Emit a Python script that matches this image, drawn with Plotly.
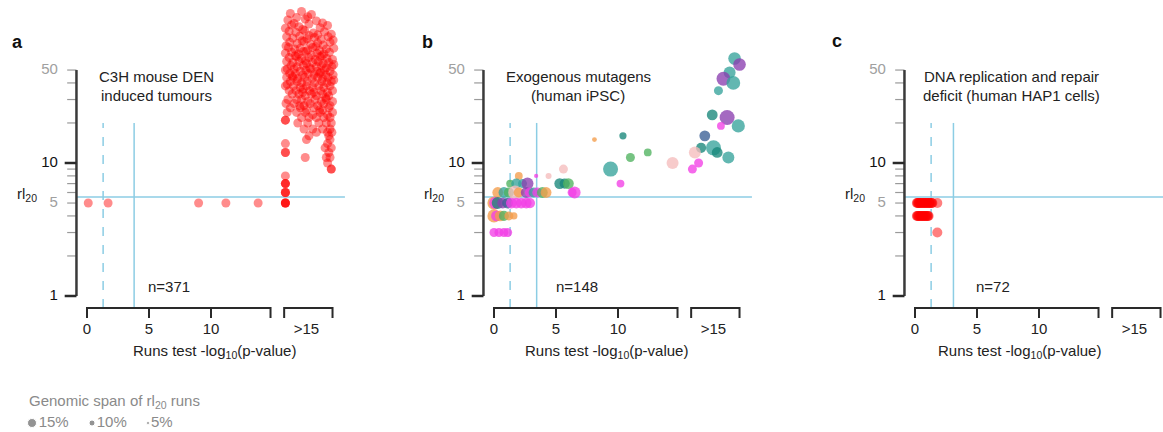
import plotly.graph_objects as go

W, H = 1163, 432
FONT = "Liberation Sans, Arial, sans-serif"

# ---------------- data ----------------
# panel a: C3H mouse DEN induced tumours  (x = runs test -log10 p, >15 column spread over 15.9..19.8; y = rl20)
a_x = [
    16.4, 17.3, 18.1, 17.8, 16.9,
    16.2, 17.6, 18.5, 19.0, 16.7,
    16.5, 17.1, 17.9, 18.8, 19.4, 16.0, 17.4,
    16.3, 16.85, 17.55, 18.25, 18.6, 19.15, 19.7, 17.9,
    16.1, 16.6, 17.15, 17.75, 18.35, 18.9, 19.45, 19.85, 17.35,
    16.35, 16.95, 17.5, 18.05, 18.6, 19.05, 19.6, 16.05, 18.45,
    16.25, 16.75, 17.2, 17.8, 18.2, 18.75, 19.3, 19.9, 17.45,
    16.0, 16.5, 17.05, 17.65, 18.1, 18.55, 19.1, 19.55, 16.8, 18.95,
    16.3, 16.9, 17.3, 17.9, 18.4, 18.8, 19.35, 19.8, 17.6,
    16.1, 16.6, 17.1, 17.7, 18.2, 18.65, 19.05, 19.5, 19.9,
    16.45, 16.95, 17.45, 17.95, 18.5, 18.9, 19.3, 19.75, 16.15,
    16.0, 16.7, 17.2, 17.65, 18.05, 18.55, 19.15, 19.6, 18.85,
    16.35, 16.8, 17.4, 17.85, 18.3, 18.75, 19.25, 19.85, 16.55,
    16.1, 16.6, 17.0, 17.55, 18.15, 18.6, 19.0, 19.45, 19.9,
    16.4, 16.95, 17.3, 17.75, 18.35, 18.95, 19.35, 19.7, 16.15,
    16.0, 16.65, 17.2, 17.7, 18.2, 18.7, 19.1, 19.6, 17.45,
    16.3, 16.85, 17.4, 17.95, 18.3, 18.85, 19.4, 19.8,
    16.55, 17.1, 17.6, 18.1, 18.5, 19.0, 19.5, 19.25,
    16.2, 16.9, 17.3, 17.8, 18.4, 18.9, 19.3, 19.8,
    16.05, 16.7, 17.5, 18.0, 18.6, 19.1, 19.6, 17.15,
    16.4, 17.2, 17.7, 18.3, 19.0, 19.5, 18.75,
    16.15, 16.9, 17.6, 18.2, 18.8, 19.4, 19.8,
    17.3, 17.9, 18.5, 19.1, 19.6,
    16.0, 16.0,
    17.0, 17.8, 18.7, 19.3, 19.7,
    17.5, 18.2, 19.0, 19.6,
    18.5, 19.4, 19.75,
    17.9, 19.5,
    17.7, 19.6,
    16.0, 19.4,
    19.2, 19.7,
    16.0, 16.0, 19.5,
    17.6, 19.3, 19.6,
    19.4,
    19.7, 19.7,
    16.0,
    16.0, 16.0, 16.0,
    16.0, 16.0, 16.0,
    16.0, 16.0, 16.0, 16.0, 0.1, 1.7, 9.0, 11.2, 13.8,
]
a_y = [
    133, 138, 131, 126, 124,
    119, 121, 117, 113, 112,
    109, 106, 111, 104, 108, 103, 101,
    98, 96, 99, 95, 92, 97, 93, 91,
    89, 87, 90, 86, 88, 85, 89, 84, 83,
    81, 79, 82, 78, 80, 77, 81, 76, 75,
    74, 72, 73, 71, 74, 70, 72, 73, 69,
    67, 68, 66, 69, 65, 67, 66, 68, 64, 64,
    62, 63, 61, 62, 60, 63, 61, 60, 59,
    58, 57, 58, 56, 57, 58, 56, 57, 55,
    54, 53, 54, 52, 53, 54, 52, 53, 51,
    50, 51, 49, 50, 51, 49, 50, 49, 48,
    47, 47, 46, 47, 46, 47, 46, 46, 45,
    44, 44, 43, 44, 43, 44, 43, 44, 42,
    41, 41, 40, 41, 40, 41, 40, 41, 39,
    38, 38, 37, 38, 37, 38, 37, 38, 36,
    35, 35, 34, 35, 34, 35, 34, 35,
    33, 33, 32, 33, 32, 33, 32, 31,
    30, 30, 30, 29, 30, 29, 30, 29,
    28, 28, 27, 28, 27, 28, 27, 27,
    26, 26, 25, 26, 25, 26, 25,
    24, 24, 24, 23, 24, 23, 24,
    22, 22, 22, 22, 22,
    21, 21,
    20, 20, 20, 20, 20,
    18, 18, 18, 18,
    17, 17, 17,
    16, 16,
    15, 15,
    14, 14,
    13, 13,
    12, 12, 12,
    11, 11, 11,
    10,
    9, 9,
    8,
    7, 7, 7,
    6, 6, 6,
    5, 5, 5, 5, 5, 5, 5, 5, 5,
]

# panel b: exogenous mutagens (human iPSC)
b_x = [19.4, 19.8, 19.0, 18.5, 19.3, 18.1, 17.6, 18.8, 18.3, 19.7,
       17.0, 16.7, 16.2, 17.7, 18.0, 18.9, 16.5, 16.0, 14.4,
       8.1, 10.4, 11.0, 12.4, 9.4, 10.2, 5.6, 4.4, 3.4, 2.0,
       1.3, 1.8, 2.3, 2.7, 5.3, 5.7, 6.0, 6.5, 6.3,
       0.3, 0.8, 1.2, 1.7, 2.0, 2.6, 2.9, 3.2, 3.5, 3.9, 4.2,
       0.0, 0.1, 0.3, 0.7, 1.1, 1.4, 1.8, 2.2, 2.6, 2.9,
       0.0, 0.2, 0.5, 0.8, 1.2, 1.6,
       0.0, 0.4, 0.8, 1.1]
b_y = [61, 55, 48, 43, 40, 35, 23, 22, 19, 19,
       16, 13, 12, 13, 12, 11, 10, 9, 10,
       15, 16, 11, 12, 9, 7, 9, 8, 8, 8,
       7, 7, 7, 7, 7, 7, 7, 6, 6,
       6, 6, 6, 6, 6, 6, 6, 6, 6, 6, 6,
       5, 5, 5, 5, 5, 5, 5, 5, 5, 5,
       4, 4, 4, 4, 4, 4,
       3, 3, 3, 3]
b_span = [21, 21, 20, 23, 23, 15, 18, 25, 13, 22,
          18, 17, 20, 25, 18, 20, 15, 15, 20,
          8, 12, 15, 13, 25, 13, 15, 10, 7, 13,
          13, 17, 15, 20, 18, 17, 18, 20, 15,
          18, 18, 17, 23, 17, 18, 17, 17, 17, 18, 18,
          22, 20, 20, 18, 18, 18, 18, 18, 18, 17,
          22, 18, 18, 17, 15, 12,
          15, 15, 15, 15]
b_group = ["teal", "purple", "teal", "purple", "teal", "teal", "dteal", "purple", "magenta", "teal",
           "navy", "dteal", "pink", "teal", "dteal", "teal", "magenta", "magenta", "pink",
           "orange", "dteal", "green", "green", "teal", "magenta", "pink", "pink", "magenta", "orange",
           "green", "teal", "teal", "purple", "dteal", "dteal", "green", "magenta", "magenta",
           "orange", "teal", "green", "pink", "orange", "purple", "magenta", "teal", "magenta", "green", "orange",
           "orange", "magenta", "dteal", "purple", "navy", "magenta", "magenta", "magenta", "magenta", "magenta",
           "orange", "magenta", "orange", "green", "orange", "orange",
           "magenta", "magenta", "magenta", "magenta"]

# panel c: DNA replication and repair deficit (human HAP1 cells)
c_x = [0.15, 0.2, 0.25, 0.3, 0.35, 0.4, 0.5, 0.55, 0.6, 0.7, 0.75, 0.8, 0.9, 0.95, 1.0,
       1.1, 1.15, 1.2, 1.3, 1.35, 1.4, 1.8,
       0.15, 0.2, 0.25, 0.3, 0.4, 0.45, 0.5, 0.6, 0.65, 0.7, 0.8, 0.85, 0.9, 1.0, 1.05, 1.1,
       1.8]
c_y = [5, 5, 5, 5, 5, 5, 5, 5, 5, 5, 5, 5, 5, 5, 5,
       5, 5, 5, 5, 5, 5, 5,
       4, 4, 4, 4, 4, 4, 4, 4, 4, 4, 4, 4, 4, 4, 4, 4,
       3]

panel_letters = ["a", "b", "c"]
panel_titles = [["C3H mouse DEN", "induced tumours"],
                ["Exogenous mutagens", "(human iPSC)"],
                ["DNA replication and repair", "deficit (human HAP1 cells)"]]
panel_n = ["n=371", "n=148", "n=72"]
bonferroni_line = [3.8, 3.44, 3.1]
nominal_line = 1.3
rl20_line = 5.55

y_major = [1, 10]
y_minor = [2, 3, 4, 5, 6, 7, 8, 9, 20, 30, 40, 50]
y_lab_val = [1, 5, 10, 50]
y_lab_txt = ["1", "5", "10", "50"]
x_tick_val = [0, 5, 10]
x_tick_txt = ["0", "5", "10"]
seg1 = [0, 14.8]
seg2 = [15.9, 19.8]
over15_pos = 17.7

legend_span = [15, 10, 5]
legend_txt = ["15%", "10%", "5%"]

# ---------------- styling / geometry ----------------
PPU = 12.4            # px per x unit
Y0PX, PPD = 296, 133  # px of y=1, px per decade
x0px = [87, 494, 915]
dom_px = [(5, 388), (392, 778), (790, 1163)]
YTOP, YBOT = 0, 372
YAX = -0.85
SIZE_PER_PCT = 0.6

def ypx2val(py):
    return 10 ** ((Y0PX - py) / PPD)

XB = ypx2val(308)
XT = ypx2val(318)
XLAB_Y = ypx2val(330)

colors = {"teal": "#36a39b", "dteal": "#17877a", "purple": "#8a3fb0", "magenta": "#f23fe6",
          "orange": "#f39c4a", "green": "#4fb25f", "pink": "#f5bcbc", "navy": "#3a5f95"}

fig = go.Figure()

def ax_ids(i):
    s = "" if i == 0 else str(i + 1)
    return "x" + s, "y" + s

def line(xs, ys, i, color, width, dash="solid"):
    xa, ya = ax_ids(i)
    fig.add_trace(go.Scatter(x=xs, y=ys, xaxis=xa, yaxis=ya, mode="lines",
                             line=dict(color=color, width=width, dash=dash),
                             hoverinfo="skip", showlegend=False))

BLUE = "#8ccde4"
for i in range(3):
    xa, ya = ax_ids(i)
    # reference lines
    line([YAX, 20.8], [rl20_line, rl20_line], i, BLUE, 1.5)
    line([nominal_line, nominal_line], [XB, 20], i, BLUE, 1.5, "dash")
    line([bonferroni_line[i], bonferroni_line[i]], [XB, 20], i, BLUE, 1.5)
    # y spine + ticks
    mx, my = [], []
    for t in y_minor:
        mx += [YAX, YAX - 0.75, None]
        my += [t, t, None]
    line(mx, my, i, "#9a9a9a", 1.2)
    line([YAX, YAX], [1, 50], i, "#3a3a3a", 2.5)
    Mx, My = [], []
    for t in y_major:
        Mx += [YAX, YAX - 0.95, None]
        My += [t, t, None]
    line(Mx, My, i, "#2a2a2a", 2.5)
    # x axis brackets
    bx, by = [], []
    for seg in (seg1, seg2):
        bx += [seg[0], seg[0], seg[1], seg[1], None]
        by += [XT, XB, XB, XT, None]
    for t in x_tick_val[1:]:
        bx += [t, t, None]
        by += [XB, XT, None]
    line(bx, by, i, "#2a2a2a", 2)
    # tick labels
    fig.add_trace(go.Scatter(x=[YAX - 1.5] * len(y_lab_val), y=y_lab_val, xaxis=xa, yaxis=ya,
                             mode="text", text=y_lab_txt, textposition="middle left",
                             textfont=dict(family=FONT, size=15,
                                           color=["#111", "#a0a0a0", "#111", "#a0a0a0"]),
                             hoverinfo="skip", showlegend=False))
    fig.add_trace(go.Scatter(x=x_tick_val + [over15_pos], y=[XLAB_Y] * 4, xaxis=xa, yaxis=ya,
                             mode="text", text=x_tick_txt + [">15"], textposition="middle center",
                             textfont=dict(family=FONT, size=15, color="#222"),
                             hoverinfo="skip", showlegend=False))

# data points
fig.add_trace(go.Scatter(x=a_x, y=a_y, xaxis="x", yaxis="y", mode="markers",
                         marker=dict(size=9, color="rgba(255,0,0,0.45)", line=dict(width=0)),
                         hoverinfo="skip", showlegend=False))
fig.add_trace(go.Scatter(x=b_x, y=b_y, xaxis="x2", yaxis="y2", mode="markers",
                         marker=dict(size=[s * SIZE_PER_PCT for s in b_span],
                                     color=[colors[g] for g in b_group], opacity=0.78,
                                     line=dict(width=0)),
                         hoverinfo="skip", showlegend=False))
fig.add_trace(go.Scatter(x=c_x, y=c_y, xaxis="x3", yaxis="y3", mode="markers",
                         marker=dict(size=10, color="rgba(255,0,0,0.5)", line=dict(width=0)),
                         hoverinfo="skip", showlegend=False))

# legend markers (own axis, pixel units)
fig.add_trace(go.Scatter(x=[32, 92, 148], y=[9, 9, 9], xaxis="x4", yaxis="y4", mode="markers+text",
                         marker=dict(size=[s * SIZE_PER_PCT for s in legend_span], color="#666"),
                         text=legend_txt, textposition="middle right",
                         textfont=dict(family=FONT, size=15, color="#8a8a8a"),
                         hoverinfo="skip", showlegend=False))

axis_common = dict(showgrid=False, zeroline=False, showline=False, showticklabels=False,
                   ticks="", fixedrange=True)
layout = dict(width=W, height=H, margin=dict(l=0, r=0, t=0, b=0), autosize=False,
              plot_bgcolor="white", paper_bgcolor="white", font=dict(family=FONT))
for i in range(3):
    s = "" if i == 0 else str(i + 1)
    L, R = dom_px[i]
    layout["xaxis" + s] = dict(axis_common, domain=[L / W, R / W],
                               range=[(L - x0px[i]) / PPU, (R - x0px[i]) / PPU], anchor="y" + s)
    layout["yaxis" + s] = dict(axis_common, type="log", domain=[1 - YBOT / H, 1 - YTOP / H],
                               range=[(Y0PX - YBOT) / PPD, (Y0PX - YTOP) / PPD], anchor="x" + s)
layout["xaxis4"] = dict(axis_common, domain=[0, 300 / W], range=[0, 300], anchor="y4")
layout["yaxis4"] = dict(axis_common, domain=[0, 40 / H], range=[0, 40], anchor="x4")
fig.update_layout(**layout)

def ann(text, px, py, size=15, color="#222", xanchor="center", bold=False):
    fig.add_annotation(text=f"<b>{text}</b>" if bold else text, x=px / W, y=1 - py / H,
                       xref="paper", yref="paper", xanchor=xanchor, yanchor="middle",
                       showarrow=False, font=dict(family=FONT, size=size, color=color))

letter_pos = [(17, 42), (427, 42), (837, 41)]
title_cx = [156, 578, 1011]
n_cx = [169, 577, 993]
xlab_cx = [214, 606, 1019]
for i in range(3):
    ann(panel_letters[i], *letter_pos[i], size=18, color="#111", bold=True)
    ann(panel_titles[i][0], title_cx[i], 77)
    ann(panel_titles[i][1], title_cx[i], 95)
    ann(panel_n[i], n_cx[i], 286)
    ann("Runs test -log<sub>10</sub>(p-value)", xlab_cx[i], 351)
    yax_px = x0px[i] + YAX * PPU
    ann("rl<sub>20</sub>", yax_px - 37, 194, xanchor="right")

ann("Genomic span of rl<sub>20</sub> runs", 27, 401, color="#8a8a8a", xanchor="left")

fig.write_html("out.html")
